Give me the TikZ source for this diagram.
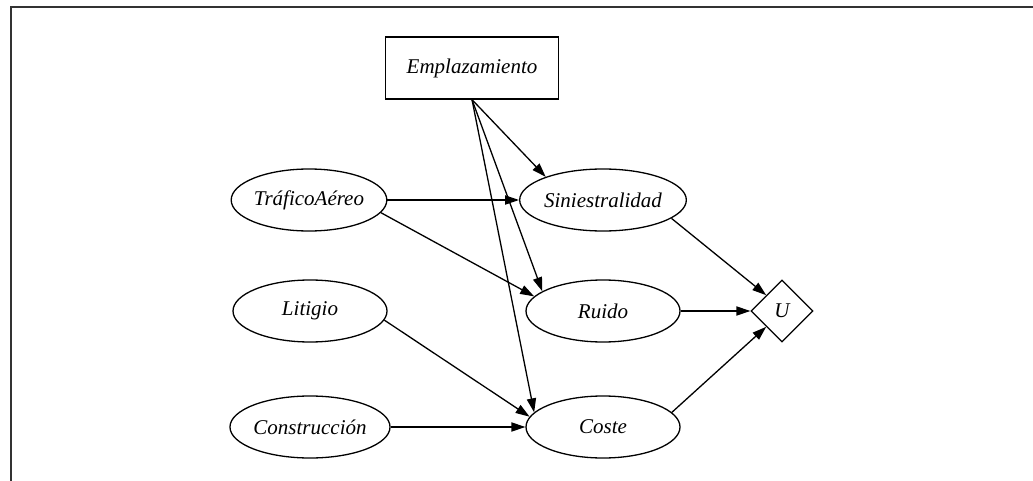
\documentclass[tikz,border=0pt]{standalone}
\usepackage{fontspec}
\setmainfont{Liberation Serif}
\usetikzlibrary{arrows.meta,shapes.geometric}

\tikzset{
  var/.style={draw,ellipse,line width=0.65pt,inner sep=0pt,minimum width=77pt,minimum height=31pt,
    font=\itshape\fontsize{10.5}{12}\selectfont},
  dec/.style={draw,rectangle,line width=0.65pt,inner sep=0pt,minimum width=86.5pt,minimum height=31pt,
    font=\itshape\fontsize{10.5}{12}\selectfont},
  util/.style={draw,diamond,aspect=1,line width=0.65pt,inner sep=0pt,minimum size=31pt,
    font=\itshape\fontsize{10.5}{12}\selectfont},
}

\begin{document}
\begin{tikzpicture}[x=0.5pt,y=-0.5pt,>={Triangle[length=7pt,width=4.6pt]}]
  \useasboundingbox (0,0) rectangle (1033,481);
  \draw[line width=1pt,black!80] (1033,7) -- (11,7) -- (11,481);

  \node[dec] (empl) at (472,68) {Emplazamiento};
  \foreach \name/\x/\y/\txt in {
    trafico/309/200/TráficoAéreo,
    litigio/310/311/Litigio,
    construccion/310/427/Construcción,
    sin/603/200/Siniestralidad,
    ruido/603/311/Ruido,
    coste/603/427/Coste
  }{
    \node[var] (\name) at (\x,\y) {\txt};
  }
  \node[util] (U) at (782,311) {U};

  \foreach \a/\b in {
    empl.south/sin.158, empl.south/ruido.162, empl.south/coste.168,
    trafico.east/sin.west, trafico.-10/ruido.168,
    litigio.-7/coste.172, construccion.east/coste.west,
    sin.-15/U.135, ruido.east/U.west, coste.12/U.225
  }{
    \draw[->,line width=0.65pt] (\a) -- (\b);
  }
\end{tikzpicture}
\end{document}
